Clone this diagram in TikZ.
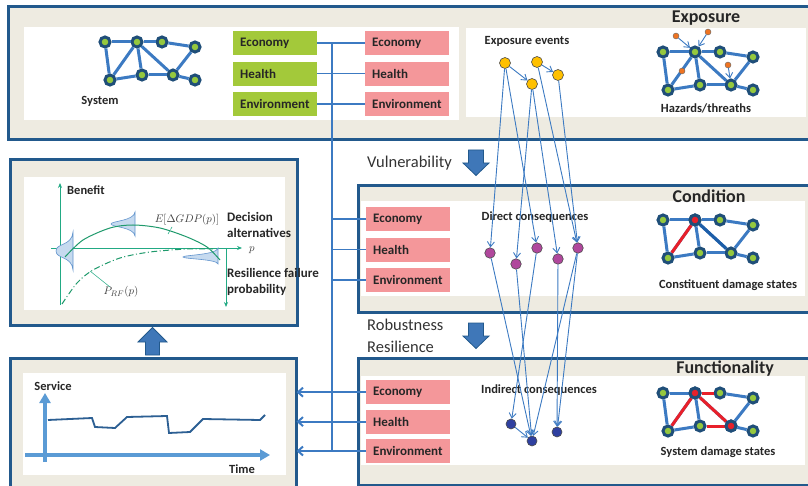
\documentclass[tikz,border=0pt]{standalone}
\usepackage{fontspec}
\setmainfont{Carlito}
\usetikzlibrary{positioning,arrows.meta}
\definecolor{frm}{HTML}{22598C}
\definecolor{bge}{HTML}{EEEBE1}
\definecolor{grn}{HTML}{A3C93A}
\definecolor{pnk}{HTML}{F4979A}
\definecolor{lnk}{HTML}{3C7AC2}
\definecolor{ndring}{HTML}{1F4E79}
\definecolor{ndfill}{HTML}{95C83E}
\definecolor{dmg}{HTML}{E8202A}
\definecolor{dkedge}{HTML}{1D5EA8}
\definecolor{evt}{HTML}{FFC000}
\definecolor{dcq}{HTML}{B0479C}
\definecolor{icq}{HTML}{2F40A0}
\definecolor{haz}{HTML}{EE7422}
\definecolor{tea}{HTML}{22AA84}
\definecolor{crv}{HTML}{1F9A6C}
\definecolor{dst}{HTML}{C6DAEF}
\definecolor{svax}{HTML}{5B9BD5}
\definecolor{svln}{HTML}{2C5F93}
\definecolor{bigarr}{HTML}{3F77B8}
\tikzset{
  panel/.style={draw=frm, line width=3pt, fill=bge, outer sep=0pt, inner sep=0pt, anchor=north west},
  whitearea/.style={fill=white, outer sep=0pt, inner sep=0pt, anchor=north west},
  cat/.style={minimum height=24pt, text width=70pt, inner xsep=7pt, inner ysep=0pt, align=left, text=black!85, font=\fontsize{13}{15}\selectfont\bfseries},
  catg/.style={cat, fill=grn},
  catp/.style={cat, fill=pnk},
  title/.style={text=black!85, inner sep=0pt, font=\fontsize{18}{20}\selectfont\bfseries},
  stage/.style={text=black!80, inner sep=0pt, font=\fontsize{16.5}{18}\selectfont},
  lbl/.style={text=black!85, inner sep=0pt, font=\fontsize{12.5}{16}\selectfont\bfseries},
  netnode/.style={circle, minimum size=10pt, inner sep=0pt, line width=3pt, draw=ndring, fill=ndfill},
  netedge/.style={draw=lnk, line width=3pt},
  evnode/.style={circle, minimum size=11pt, inner sep=0pt, fill=evt, draw=black!70, line width=0.6pt},
  dnode/.style={circle, minimum size=10.5pt, inner sep=0pt, fill=dcq, draw=black!70, line width=0.6pt},
  inode/.style={circle, minimum size=10pt, inner sep=0pt, fill=icq, draw=black!70, line width=0.6pt},
  haznode/.style={circle, minimum size=6pt, inner sep=0pt, fill=haz, draw=black!60, line width=0.4pt},
  evarrow/.style={draw=lnk, line width=0.9pt, -{Straight Barb[length=5pt,width=7pt]}},
  bus/.style={draw=lnk, line width=1.5pt},
  outarrow/.style={draw=lnk, line width=2pt, -{Straight Barb[length=5pt,width=9pt]}},
  bigarrow/.style={fill=bigarr, draw=frm, line width=0.8pt, line join=miter},
  axis/.style={draw=tea, line width=0.8pt, -{Stealth[length=5pt,width=4pt]}},
  crvline/.style={draw=crv, line width=1pt},
  dist/.style={fill=dst, draw=lnk!80, line width=0.6pt},
  svaxis/.style={draw=svax, line width=3.5pt, -{Triangle[length=10pt,width=11pt]}}}
\newcommand{\netgraph}[3]{%
  \foreach \n/\dx/\dy in {a/0/0,b/32/0,c/57/0,d/90/5,e/5/38,f/37/33,g/68/33,h/90/38}
    \node[netnode] (#1\n) at (#2+\dx,#3+\dy) {};
  \foreach \u/\v in {a/b,b/c,c/d,a/e,e/b,b/f,b/g,e/f,f/g,d/g,g/h}
    \draw[netedge] (#1\u) -- (#1\v);
}

\begin{document}
\begin{tikzpicture}[x=1pt, y=-1pt, node distance=6pt]
\useasboundingbox (0,0) rectangle (808,486);
% panels
\node[panel, minimum width=822pt, minimum height=133.5pt] (expo) at (8,6.5) {};
\node[panel, minimum width=287.5pt, minimum height=165pt] (dec) at (10,160) {};
\node[panel, minimum width=286pt, minimum height=136pt] (svc) at (10.5,358.5) {};
\node[panel, minimum width=472pt, minimum height=127pt] (cond) at (358,185.5) {};
\node[panel, minimum width=472pt, minimum height=126.5pt] (func) at (358,358.5) {};
\node[whitearea, minimum width=435pt, minimum height=93.5pt] (sysw) at (24,27) {};
\node[whitearea, minimum width=340pt, minimum height=89pt] (evw) at (466,28) {};
\node[whitearea, minimum width=261pt, minimum height=133pt] (decw) at (24,177) {};
\node[whitearea, minimum width=263pt, minimum height=102pt] (svcw) at (23,373) {};
\node[whitearea, minimum width=444pt, minimum height=95pt] (condw) at (361,201) {};
\node[whitearea, minimum width=444pt, minimum height=89pt] (funcw) at (361,376) {};
\node[title] (exptitle) at (706,18) {Exposure};
\node[title] (condtitle) at (709,196) {Condition};
\node[title] (functitle) at (725,369) {Functionality};
\node[stage, anchor=west] (vul) at (367,163) {Vulnerability};
\node[stage, anchor=west] (rob) at (367,325) {Robustness};
\node[stage, anchor=west] (res) at (367,347) {Resilience};
% block arrows
\draw[bigarrow] (468.5,150) -- (483.5,150) -- (483.5,163) -- (489,163) -- (476,175.5) -- (463,163) -- (468.5,163) -- cycle;
\draw[bigarrow] (468.5,323) -- (483.5,323) -- (483.5,336) -- (489,336) -- (476,348.5) -- (463,336) -- (468.5,336) -- cycle;
\draw[bigarrow] (145.5,355) -- (159.5,355) -- (159.5,342) -- (167,342) -- (152.5,327.5) -- (138,342) -- (145.5,342) -- cycle;
% category boxes
\node[catg, anchor=north west] (gec) at (233,31) {Economy};
\node[catg, below=of gec] (ghe) {Health};
\node[catg, below=of ghe] (gen) {Environment};
\node[catp, anchor=north west] (pec) at (365,31) {Economy};
\node[catp, below=of pec] (phe) {Health};
\node[catp, below=of phe] (pen) {Environment};
\node[catp, anchor=north west] (cec) at (366,207) {Economy};
\node[catp, below=of cec] (che) {Health};
\node[catp, below=of che] (cen) {Environment};
\node[catp, anchor=north west] (fec) at (366,380) {Economy};
\node[catp, below=5pt of fec] (fhe) {Health};
\node[catp, below=5pt of fhe] (fen) {Environment};
\coordinate (bust) at (332,43);
\coordinate (busb) at (332,450);
\draw[bus] (gec) -- (pec);
\draw[bus] (ghe) -- (phe);
\draw[bus] (gen) -- (pen);
\draw[bus] (bust) -- (busb);
\draw[bus] (bust |- cec.west) -- (cec.west);
\draw[bus] (bust |- che.west) -- (che.west);
\draw[bus] (bust |- cen.west) -- (cen.west);
\draw[outarrow] (fec.west) -- (svc.east |- fec.west);
\draw[outarrow] (fhe.west) -- (svc.east |- fhe.west);
\draw[outarrow] (fen.west) -- (svc.east |- fen.west);
% networks
\netgraph{sys}{105}{42}
\netgraph{exp}{663}{52}
\netgraph{con}{663}{220}
\netgraph{fun}{663}{393}
\draw[netedge, draw=dmg] (cone) -- (conb);
\draw[netedge, draw=dkedge] (conb) -- (cong);
\node[netnode, fill=dmg] (conbx) at (conb) {};
\foreach \u/\v in {b/c,b/e,b/g,f/g}
  \draw[netedge, draw=dmg] (fun\u) -- (fun\v);
\node[netnode, fill=dmg] (funbx) at (funb) {};
\node[netnode, fill=dmg] (fungx) at (fung) {};
\node[haznode] (hz1) at (676,36) {};
\node[haznode] (hz2) at (708,32) {};
\node[haznode] (hz3) at (682,71) {};
\node[haznode] (hz4) at (728,65) {};
\draw[evarrow] (hz1) -- (expb);
\draw[evarrow] (hz2) -- (expb);
\draw[evarrow] (hz4) -- (expg);
\node[lbl] (syslbl) at (100,101) {System};
\node[lbl] (hazlbl) at (706,108) {Hazards/threaths};
\node[lbl] (conlbl) at (728,285) {Constituent damage states};
\node[lbl] (funlbl) at (718,452) {System damage states};
% events and consequences
\node[lbl] (evlbl) at (527,41) {Exposure events};
\node[lbl] (dclbl) at (535,217) {Direct consequences};
\node[lbl] (iclbl) at (539,390) {Indirect consequences};
\node[evnode] (e1) at (505,63) {};
\node[evnode] (e2) at (532,84) {};
\node[evnode] (e3) at (537,62) {};
\node[evnode] (e4) at (558,75) {};
\node[dnode] (d1) at (490,253) {};
\node[dnode] (d2) at (516,264) {};
\node[dnode] (d3) at (537,248) {};
\node[dnode] (d4) at (558,259) {};
\node[dnode] (d5) at (578,248) {};
\node[inode] (i1) at (511,424) {};
\node[inode] (i2) at (532,441) {};
\node[inode] (i3) at (557,432) {};
\foreach \s/\t in {e1/e2,e3/e4,e1/d1,e1/d3,e2/d2,e2/d4,e3/d5,e4/d5,d1/i2,d2/i2,d3/i1,d4/i3,d5/i2,d5/i3,i1/i2}
  \draw[evarrow] (\s) -- (\t);
% decision plot
\draw[axis] (60,305) -- (60,183);
\draw[axis] (51,248) -- (242,248);
\draw[axis] (226,248) -- (226,307);
\draw[dist] (73,232) .. controls (72,246) and (56,243) .. (56,251) .. controls (56,259) and (72,256) .. (73,270) -- cycle;
\draw[dist] (135,212) .. controls (134,221) and (111,221) .. (111,224) .. controls (111,227) and (134,227) .. (135,236) -- cycle;
\draw[dist] (218,248) .. controls (217,255) and (183,255) .. (183,257) .. controls (183,259) and (217,259) .. (218,264) -- cycle;
\draw[crvline] plot[smooth] coordinates {(65,257) (83,240) (110,228) (133,225) (160,228) (187,237) (207,247) (220,260)};
\draw[crvline, dash pattern=on 6pt off 2.5pt on 1pt off 2.5pt] plot[smooth] coordinates {(62,304) (77,283) (93,270) (120,258) (150,252) (187,249) (213,249)};
\node[text=black!75, inner sep=0pt, font=\fontsize{11}{13}\selectfont] (elbl) at (187,220) {$E[\Delta GDP(p)]$};
\node[text=black!75, inner sep=0pt, font=\fontsize{11}{13}\selectfont] (plbl) at (121,292) {$P_{RF}(p)$};
\node[text=black!75, inner sep=0pt, font=\fontsize{11}{13}\selectfont] (plab) at (252,250) {$p$};
\draw[tea, line width=0.6pt, densely dashed] (172,227) -- (168,234);
\draw[tea, line width=0.5pt] (110,287) -- (90,271);
\node[lbl, anchor=west] (benefit) at (67,190) {Benefit};
\node[lbl, anchor=west, align=left, font=\fontsize{13}{16.5}\selectfont\bfseries] (decalt) at (227,225) {Decision\\alternatives};
\node[lbl, anchor=west, align=left, font=\fontsize{13}{16.5}\selectfont\bfseries] (rfp) at (227,282) {Resilience failure\\probability};
% service plot
\draw[svaxis] (45,462) -- (45,393);
\draw[svaxis] (25,455) -- (270,455);
\draw[svln, line width=1.8pt] plot coordinates {(48,420) (92,418) (95,427) (115,428) (127,417) (167,416) (169,433) (190,432) (203,419) (260,420) (265,415)};
\node[lbl] (servlbl) at (53,386) {Service};
\node[lbl] (timelbl) at (242,469) {Time};
\end{tikzpicture}
\end{document}
